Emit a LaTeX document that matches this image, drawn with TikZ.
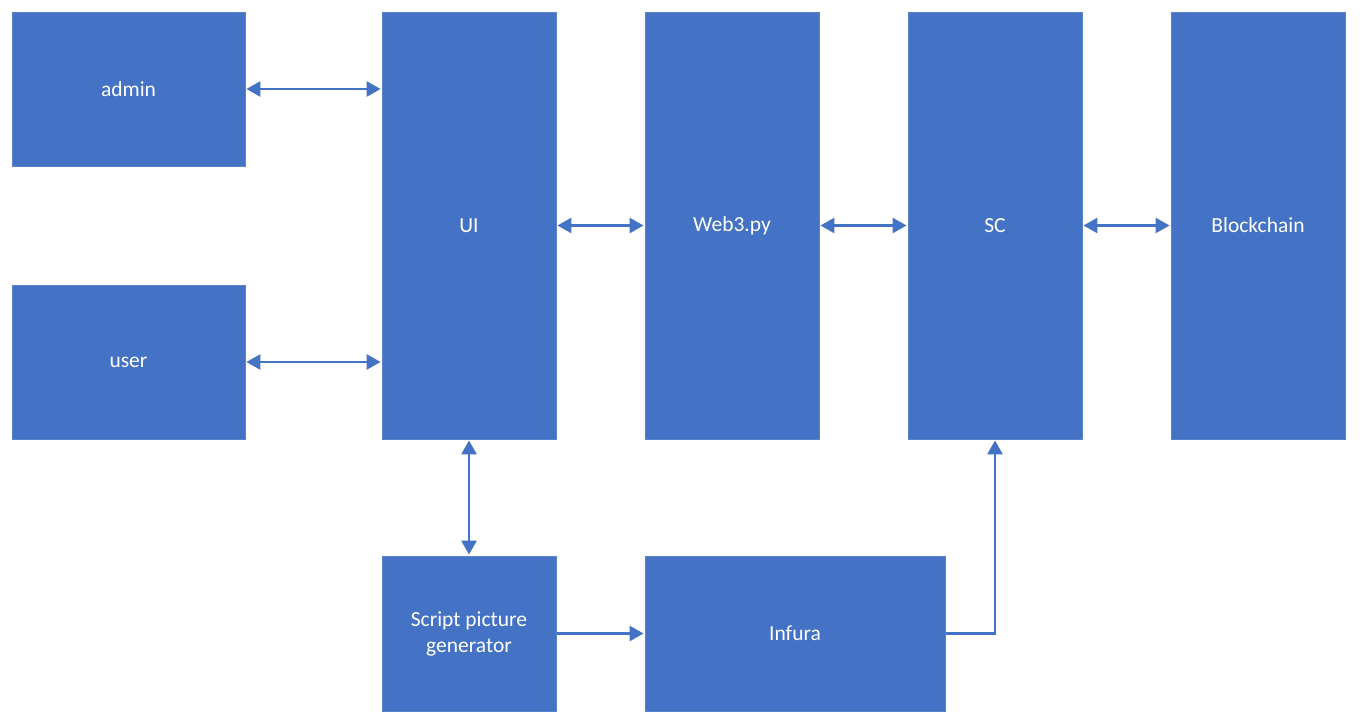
\documentclass[tikz,border=0pt]{standalone}
\usepackage{fontspec}
\setmainfont{Carlito}
\usetikzlibrary{arrows.meta}
\definecolor{boxblue}{HTML}{4472C4}
\definecolor{edgeblue}{HTML}{5B83CB}
\tikzset{
  blk/.style={rectangle, fill=boxblue, draw=edgeblue, line width=0.8pt, text=white,
    font=\fontsize{21.5}{26}\selectfont, align=center, inner sep=0pt},
  conn/.style={draw=boxblue, line width=2.6pt, shorten >=1pt, shorten <=1pt},
  bi/.style={conn, {Triangle[length=14pt,width=15pt]}-{Triangle[length=14pt,width=15pt]}},
  uni/.style={conn, -{Triangle[length=14pt,width=15pt]}}
}
\begin{document}
\begin{tikzpicture}[x=1pt,y=-1pt]
\useasboundingbox (0,0) rectangle (1362,727);
\node[blk, minimum width=233pt, minimum height=154pt] (admin) at (128.5,89) {admin};
\node[blk, minimum width=233pt, minimum height=154pt] (user) at (128.5,362) {user};
\node[blk, minimum width=174pt, minimum height=427pt] (ui) at (469,225.5) {UI};
\node[blk, minimum width=174pt, minimum height=427pt] (web3) at (732,225.5) {Web3.py};
\node[blk, minimum width=174pt, minimum height=427pt] (sc) at (995,225.5) {SC};
\node[blk, minimum width=174pt, minimum height=427pt] (bc) at (1258,225.5) {Blockchain};
\node[blk, minimum width=174pt, minimum height=155pt] (spg) at (469,633.5) {Script picture\\generator};
\node[blk, minimum width=300pt, minimum height=155pt] (infura) at (795,633.5) {Infura};
\draw[bi] (admin.east) -- (admin.east -| ui.west);
\draw[bi] (user.east) -- (user.east -| ui.west);
\draw[bi] (ui.east) -- (web3.west);
\draw[bi] (web3.east) -- (sc.west);
\draw[bi] (sc.east) -- (bc.west);
\draw[bi] (ui.south) -- (spg.north);
\draw[uni] (spg.east) -- (infura.west);
\draw[uni] (infura.east) -| (sc.south);
\end{tikzpicture}
\end{document}
